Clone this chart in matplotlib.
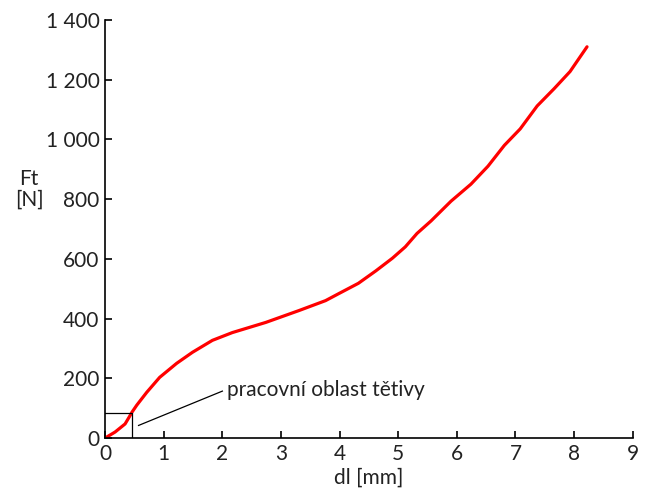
import matplotlib.pyplot as plt
from matplotlib.ticker import FuncFormatter

# odectene body krivky
dl = [0.0, 0.17, 0.34, 0.41, 0.46, 0.54, 0.71, 0.93, 1.22, 1.49, 1.83,
      2.17, 2.74, 3.31, 3.76, 4.0, 4.32, 4.62, 4.9, 5.12, 5.32, 5.56,
      5.9, 6.24, 6.53, 6.81, 7.08, 7.37, 7.66, 7.93, 8.22]
ft = [0, 20, 47, 70, 87, 110, 153, 203, 250, 287, 327,
      353, 387, 427, 460, 485, 518, 560, 602, 640, 685, 727,
      793, 850, 910, 980, 1035, 1112, 1170, 1227, 1310]

box_dl = 0.46
box_ft = 85
popis = "pracovní oblast tětivy"

plt.rcParams['font.family'] = ['Lato', 'DejaVu Sans']

fig = plt.figure(figsize=(6.45, 4.98), dpi=100)
ax = fig.add_axes([0.163, 0.1205, 0.818, 0.8395])

ax.plot(dl, ft, color="red", lw=2.3, solid_capstyle="round", solid_joinstyle="round")

# obdelnik pracovni oblasti
ax.plot([0, box_dl, box_dl], [box_ft, box_ft, 0], color="black", lw=0.9)
ax.plot([0.57, 2.0], [42, 157], color="black", lw=0.9)
ax.text(2.08, 162, popis, fontsize=15, color="#222222", va="center")

ax.set_xlim(0, 9)
ax.set_ylim(0, 1400)
ax.set_xticks(range(0, 10))
ax.set_yticks(range(0, 1401, 200))
ax.yaxis.set_major_formatter(FuncFormatter(lambda v, p: f"{int(v):,}".replace(",", " ")))

for s in ["top", "right"]:
    ax.spines[s].set_visible(False)
for s in ["left", "bottom"]:
    ax.spines[s].set_linewidth(1.2)
ax.tick_params(direction="in", length=5, width=1.2, labelsize=15,
               labelcolor="#222222", pad=4)

ax.set_xlabel("dl [mm]", fontsize=15, color="#222222", labelpad=3)
fig.text(0.045, 0.62, "Ft\n[N]", fontsize=15, color="#222222",
         ha="center", va="center", linespacing=1.0)

fig.savefig("out.png", dpi=100)
